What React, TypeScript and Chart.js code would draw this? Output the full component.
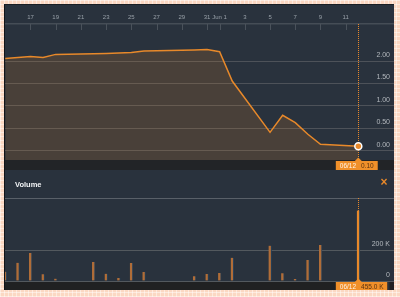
import React, { useEffect, useRef } from 'react';
import { Chart, registerables } from 'chart.js';
Chart.register(...registerables);

// ---- data ----
const DATES = ['05/15','05/16','05/17','05/18','05/19','05/22','05/23','05/24','05/25','05/26','05/30','05/31','06/01','06/02','06/05','06/06','06/07','06/08','06/09','06/12'];
// calendar days since May 15
const DAY_OFFSET = [0,1,2,3,4,7,8,9,10,11,15,16,17,18,21,22,23,24,25,28];
const PRICE = [2.06,2.08,2.10,2.08,2.15,2.165,2.17,2.18,2.19,2.225,2.25,2.26,2.21,1.555,0.41,0.79,0.625,0.366,0.143,0.10];
const VOLUME = [60000,118000,181000,43000,15000,123000,47000,19000,116000,58000,30000,45000,52000,150000,228000,50000,13000,135000,232000,455000];
const X_TICKS = [2,4,6,8,10,12,14,16,17,19,21,23,25,27];
const X_TICK_LABELS = ['17','19','21','23','25','27','29','31','Jun 1','3','5','7','9','11'];
const PRICE_TICKS = [0,0.5,1,1.5,2];
const VOLUME_TICKS = [0,200000];

const BG = '#29323d';
const ORANGE = '#e8892a';
const FONT = '"Liberation Sans", Arial, sans-serif';
const X_MIN = -0.02;
const X_MAX = 30.83;

function drawTag(ctx: CanvasRenderingContext2D, x: number, top: number, h: number, date: string, value: string, gap: boolean) {
  ctx.save();
  ctx.font = `6.5px ${FONT}`;
  const dw = ctx.measureText(date).width;
  const vw = ctx.measureText(value).width;
  const left = x - 22.5;
  const w = 4 + dw + 5 + vw + 4;
  ctx.fillStyle = '#f0902a';
  ctx.fillRect(left, top, w, h);
  ctx.beginPath();
  ctx.moveTo(x - 3.5, top);
  ctx.lineTo(x, top - 3.5);
  ctx.lineTo(x + 3.5, top);
  ctx.closePath();
  ctx.fill();
  if (gap) {
    ctx.fillStyle = BG;
    ctx.fillRect(left + w, top, 2, h + 1);
  }
  ctx.textBaseline = 'middle';
  ctx.textAlign = 'left';
  ctx.fillStyle = '#fff3e6';
  ctx.fillText(date, left + 4, top + h / 2 + 0.5);
  ctx.fillStyle = '#5a3210';
  ctx.fillText(value, left + 4 + dw + 5, top + h / 2 + 0.5);
  ctx.restore();
}

function crosshair(chart: any, top: number, bottom: number) {
  const ctx = chart.ctx;
  const x = Math.round(chart.scales.x.getPixelForValue(DAY_OFFSET[DAY_OFFSET.length - 1])) + 0.5;
  ctx.save();
  ctx.strokeStyle = ORANGE;
  ctx.lineWidth = 1;
  ctx.setLineDash([1, 1]);
  ctx.beginPath();
  ctx.moveTo(x, top);
  ctx.lineTo(x, bottom);
  ctx.stroke();
  ctx.restore();
}

const fitX = (h: number) => (s: any) => {
  s.height = h;
  s.paddingLeft = 0;
  s.paddingRight = 0;
  s.paddingTop = 0;
  s.paddingBottom = 0;
};
const fitY = (s: any) => {
  s.width = 0;
  s.paddingLeft = 0;
  s.paddingRight = 0;
  s.paddingTop = 0;
  s.paddingBottom = 0;
};

export default function App() {
  const priceRef = useRef<HTMLCanvasElement>(null);
  const volRef = useRef<HTMLCanvasElement>(null);

  useEffect(() => {
    document.body.style.margin = '0';
    const last = DAY_OFFSET.length - 1;

    const pricePlugin = {
      id: 'pricePlugin',
      beforeDraw(chart: any) {
        const { ctx, chartArea, width, height } = chart;
        ctx.save();
        ctx.fillStyle = '#222427';
        ctx.fillRect(0, chartArea.bottom, width, height - chartArea.bottom);
        ctx.restore();
      },
      beforeDatasetsDraw(chart: any) {
        crosshair(chart, chart.chartArea.top, chart.chartArea.bottom);
      },
      afterDraw(chart: any) {
        const { ctx, chartArea } = chart;
        const xs = chart.scales.x;
        ctx.save();
        ctx.strokeStyle = '#4a525b';
        ctx.lineWidth = 1;
        X_TICKS.forEach((t) => {
          const px = Math.round(xs.getPixelForValue(t)) + 0.5;
          ctx.beginPath();
          ctx.moveTo(px, chartArea.top);
          ctx.lineTo(px, chartArea.top + 6);
          ctx.stroke();
        });
        ctx.restore();
        drawTag(ctx, xs.getPixelForValue(DAY_OFFSET[last]), chartArea.bottom + 1, 9, DATES[last], PRICE[last].toFixed(2), false);
      },
    };

    const price = new Chart(priceRef.current!, {
      type: 'line',
      data: {
        datasets: [{
          data: DAY_OFFSET.map((d, i) => ({ x: d, y: PRICE[i] })),
          borderColor: ORANGE,
          borderWidth: 1.5,
          backgroundColor: 'rgba(232,137,42,0.17)',
          fill: 'start',
          tension: 0,
          pointRadius: (c: any) => (c.dataIndex === last ? 3.5 : 0),
          pointBackgroundColor: ORANGE,
          pointBorderColor: '#ffffff',
          pointBorderWidth: 1.5,
          pointHoverRadius: 0,
        }],
      },
      options: {
        animation: false,
        responsive: false,
        maintainAspectRatio: false,
        events: [],
        layout: { autoPadding: false, padding: { left: 0, right: 0, top: 0, bottom: 10 } },
        plugins: { legend: { display: false }, tooltip: { enabled: false } },
        scales: {
          x: {
            type: 'linear',
            position: 'top',
            min: X_MIN,
            max: X_MAX,
            afterBuildTicks: (s: any) => { s.ticks = X_TICKS.map((v) => ({ value: v })); },
            afterFit: fitX(19),
            grid: { display: true, drawOnChartArea: false, drawTicks: false },
            border: { display: true, color: '#454d56', width: 1.5 },
            ticks: {
              color: '#98a0a8',
              font: { family: FONT, size: 6 },
              padding: 3,
              maxRotation: 0,
              autoSkip: false,
              callback: (v: any) => X_TICK_LABELS[X_TICKS.indexOf(v)] ?? '',
            },
          },
          y: {
            type: 'linear',
            position: 'right',
            min: -0.2076,
            max: 2.828,
            z: 1,
            afterBuildTicks: (s: any) => { s.ticks = PRICE_TICKS.map((v) => ({ value: v })); },
            afterFit: fitY,
            grid: { color: 'rgba(255,245,230,0.17)', lineWidth: 1, drawTicks: false },
            border: { display: false },
            ticks: {
              mirror: true,
              padding: -4,
              labelOffset: -6,
              color: '#b3b8bd',
              font: { family: FONT, size: 7 },
              callback: (v: any) => Number(v).toFixed(2),
            },
          },
        },
      },
      plugins: [pricePlugin],
    } as any);

    const volPlugin = {
      id: 'volPlugin',
      beforeDraw(chart: any) {
        const { ctx, chartArea, width, height } = chart;
        ctx.save();
        ctx.fillStyle = '#202122';
        ctx.fillRect(0, chartArea.bottom + 1, width, height - chartArea.bottom - 1);
        ctx.font = `bold 7.5px ${FONT}`;
        ctx.fillStyle = '#f2f4f6';
        ctx.textBaseline = 'middle';
        ctx.fillText('Volume', 10, 14.5);
        ctx.font = `bold 12px ${FONT}`;
        ctx.fillStyle = ORANGE;
        ctx.textAlign = 'center';
        ctx.fillText('×', 379, 13);
        ctx.restore();
      },
      beforeDatasetsDraw(chart: any) {
        crosshair(chart, chart.chartArea.top, chart.chartArea.bottom);
      },
      afterDraw(chart: any) {
        const xs = chart.scales.x;
        const v = VOLUME[last];
        drawTag(chart.ctx, xs.getPixelForValue(DAY_OFFSET[last]), chart.chartArea.bottom + 1, 8.5, DATES[last], (v / 1000).toFixed(1) + ' K', true);
      },
    };

    const vol = new Chart(volRef.current!, {
      type: 'bar',
      data: {
        datasets: [{
          data: DAY_OFFSET.map((d, i) => ({ x: d, y: VOLUME[i] })),
          backgroundColor: (c: any) => (c.dataIndex === last ? ORANGE : '#b06d38'),
          borderColor: '#24405a',
          borderWidth: { left: 0, top: 0, bottom: 0, right: 1 },
          borderSkipped: false,
          barThickness: 3,
          grouped: false,
        }],
      },
      options: {
        animation: false,
        responsive: false,
        maintainAspectRatio: false,
        events: [],
        layout: { autoPadding: false, padding: { left: 0, right: 0, top: 0, bottom: 9 } },
        plugins: { legend: { display: false }, tooltip: { enabled: false } },
        scales: {
          x: {
            type: 'linear',
            position: 'top',
            min: X_MIN,
            max: X_MAX,
            offset: false,
            afterFit: fitX(28),
            ticks: { display: false },
            grid: { display: true, drawOnChartArea: false, drawTicks: false, offset: false },
            border: { display: true, color: '#596068', width: 1 },
          },
          y: {
            type: 'linear',
            position: 'right',
            min: 0,
            max: 535484,
            z: 1,
            afterBuildTicks: (s: any) => { s.ticks = VOLUME_TICKS.map((v) => ({ value: v })); },
            afterFit: fitY,
            grid: { color: 'rgba(255,245,230,0.2)', lineWidth: 1, drawTicks: false },
            border: { display: false },
            ticks: {
              mirror: true,
              padding: -4,
              labelOffset: -6,
              color: '#b3b8bd',
              font: { family: FONT, size: 7 },
              callback: (v: any) => (v === 0 ? '0' : v / 1000 + ' K'),
            },
          },
        },
      },
      plugins: [volPlugin],
    } as any);

    return () => {
      price.destroy();
      vol.destroy();
    };
  }, []);

  return (
    <div
      style={{
        position: 'fixed',
        left: 0,
        top: 0,
        width: 400,
        height: 297,
        backgroundColor: '#fbd8c3',
        backgroundImage:
          'linear-gradient(rgba(255,255,255,0.45) 1px, transparent 1px), linear-gradient(90deg, rgba(255,255,255,0.45) 1px, transparent 1px)',
        backgroundSize: '4px 4px',
        overflow: 'hidden',
      }}
    >
      <div
        style={{
          position: 'absolute',
          left: 4,
          top: 4,
          width: 390,
          height: 286,
          background: BG,
          borderLeft: '1px solid #111418',
          borderTop: '1px solid #1a1f25',
          boxSizing: 'border-box',
        }}
      />
      <canvas ref={priceRef} width={389} height={165} style={{ position: 'absolute', left: 5, top: 5, width: 389, height: 165 }} />
      <canvas ref={volRef} width={389} height={120} style={{ position: 'absolute', left: 5, top: 170, width: 389, height: 120 }} />
    </div>
  );
}
